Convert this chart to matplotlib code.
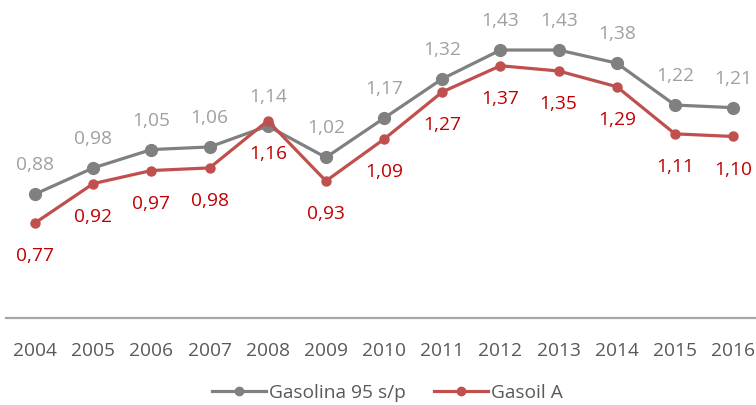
import numpy as np
import matplotlib.pyplot as plt

years = ['2004', '2005', '2006', '2007', '2008', '2009', '2010',
         '2011', '2012', '2013', '2014', '2015', '2016']
gasolina = [0.88, 0.98, 1.05, 1.06, 1.14, 1.02, 1.17, 1.32, 1.43, 1.43, 1.38, 1.22, 1.21]
gasoil = [0.77, 0.92, 0.97, 0.98, 1.16, 0.93, 1.09, 1.27, 1.37, 1.35, 1.29, 1.11, 1.10]

plt.rcParams['font.family'] = ['Open Sans', 'DejaVu Sans']
fs = 13.8

fig = plt.figure(figsize=(7.56, 4.05), dpi=100)
ax = fig.add_axes([6 / 756, 87 / 405, 750 / 756, 318 / 405])

x = np.arange(len(years))
gray = '#808080'
red = '#c0504d'
ax.plot(x, gasolina, color=gray, lw=2.3, marker='o', ms=8.5, label='Gasolina 95 s/p')
ax.plot(x, gasoil, color=red, lw=2.3, marker='o', ms=6.5, label='Gasoil A')

# data labels: gray above, red below
for xi, v in zip(x, gasolina):
    ax.annotate(f'{v:.2f}'.replace('.', ','), (xi, v), xytext=(0, 17.3),
                textcoords='offset points', ha='center', va='baseline',
                color='#a0a0a0', fontsize=fs)
for xi, v in zip(x, gasoil):
    ax.annotate(f'{v:.2f}'.replace('.', ','), (xi, v), xytext=(0, -27.4),
                textcoords='offset points', ha='center', va='baseline',
                color='#c00000', fontsize=fs)

ax.set_xlim(-0.5, -0.5 + 750 / 58.17)
ax.set_ylim(0.407, 1.621)
ax.set_xticks(x)
ax.set_xticklabels(years, color='#595959', fontsize=fs)
ax.set_yticks([])
ax.tick_params(axis='x', length=0, pad=17.5)
for s in ['top', 'right', 'left']:
    ax.spines[s].set_visible(False)
ax.spines['bottom'].set_color('#a6a6a6')
ax.spines['bottom'].set_linewidth(1.6)

leg = fig.legend(loc='center', bbox_to_anchor=(0.5126, 1 - 393 / 405), ncol=2,
                 frameon=False, fontsize=fs, handlelength=2.8, columnspacing=1.5,
                 handletextpad=0.15)
for t in leg.get_texts():
    t.set_color('#595959')
for h in leg.legend_handles:
    h.set_markersize(6)

fig.savefig('out.png', dpi=100)
